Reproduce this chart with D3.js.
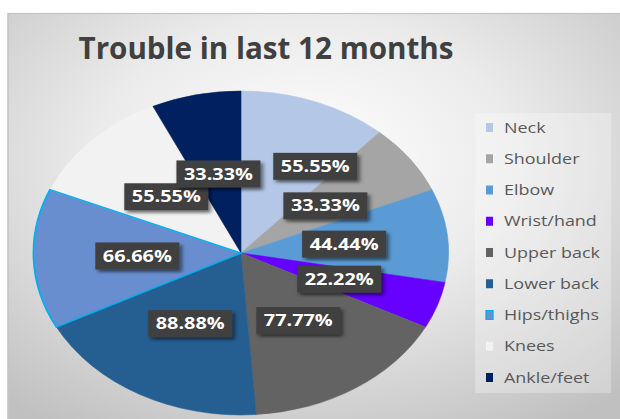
<!DOCTYPE html>
<html>
<head>
<meta charset="utf-8">
<script src="https://cdn.jsdelivr.net/npm/d3@7"></script>
<style>
  html, body { margin: 0; padding: 0; background: #fff; }
  svg { display: block; }
</style>
</head>
<body>
<div id="chart"></div>
<script>
// Chart data
const categories = ["Neck", "Shoulder", "Elbow", "Wrist/hand", "Upper back", "Lower back", "Hips/thighs", "Knees", "Ankle/feet"];
const values = [55.55, 33.33, 44.44, 22.22, 77.77, 88.88, 66.66, 55.55, 33.33];
const colors = ["#b4c7e7", "#a5a5a5", "#5b9bd5", "#6600ff", "#636363", "#255e91", "#698ed0", "#f2f2f2", "#002060"];
const titleText = "Trouble in last 12 months";

// Size of the page, the original picture is stretched sideways,
// so everything is drawn in a narrower box and stretched by k
const w = 620;
const h = 419;
const k = 1.281;
const vw = w / k;

const data = categories.map((c, i) => ({ name: c, value: values[i], color: colors[i] }));

const svg = d3.select("#chart")
  .append("svg")
  .attr("width", w)
  .attr("height", h)
  .attr("viewBox", `0 0 ${vw} ${h}`)
  .attr("preserveAspectRatio", "none");

const defs = svg.append("defs");

// background gradient
const grad = defs.append("radialGradient")
  .attr("id", "bg")
  .attr("cx", "48%").attr("cy", "35%").attr("r", "75%");
grad.append("stop").attr("offset", "0%").attr("stop-color", "#ffffff");
grad.append("stop").attr("offset", "45%").attr("stop-color", "#ebebeb");
grad.append("stop").attr("offset", "100%").attr("stop-color", "#c0c0c0");

// shadow under the data labels
const shadow = defs.append("filter")
  .attr("id", "shadow")
  .attr("x", "-20%").attr("y", "-30%").attr("width", "150%").attr("height", "170%");
shadow.append("feDropShadow")
  .attr("dx", 2).attr("dy", 2.5)
  .attr("stdDeviation", 1.6)
  .attr("flood-color", "#000")
  .attr("flood-opacity", 0.55);

// chart frame
svg.append("rect")
  .attr("x", 8 / k)
  .attr("y", 13.5)
  .attr("width", vw)
  .attr("height", h)
  .attr("fill", "url(#bg)")
  .attr("stroke", "#c3c3c3")
  .attr("stroke-width", 1.2);

// title
svg.append("text")
  .attr("x", 266 / k)
  .attr("y", 59)
  .attr("text-anchor", "middle")
  .attr("font-family", "'Open Sans', sans-serif")
  .attr("font-weight", 700)
  .attr("font-size", 31)
  .attr("fill", "#404040")
  .attr("textLength", 375 / k)
  .attr("lengthAdjust", "spacingAndGlyphs")
  .text(titleText);

// pie
const cx = 241 / k;
const cy = 253;
const radius = 162;

const pie = d3.pie().sort(null).value(d => d.value);
const arcs = pie(data);
const arc = d3.arc().innerRadius(0).outerRadius(radius);
const labelArc = d3.arc().innerRadius(radius * 0.5).outerRadius(radius * 0.5);

const g = svg.append("g").attr("transform", `translate(${cx},${cy})`);

g.selectAll("path")
  .data(arcs)
  .enter()
  .append("path")
  .attr("d", arc)
  .attr("fill", d => d.data.color)
  .attr("stroke", d => d.data.color)
  .attr("stroke-width", 0.5)
  .attr("stroke-linejoin", "round");

// Hips/thighs drawn again on top so its border is not covered
g.append("path")
  .attr("d", arc(arcs[6]))
  .attr("fill", "none")
  .attr("stroke", "#00b0f0")
  .attr("stroke-width", 1.4);

// data labels: centre at half radius, then pushed sideways if they overlap
const boxW = 84 / k;
const boxH = 27;
const fmt = d => d3.format(".2f")(d) + "%";

const placed = [];
const labelPos = arcs.map(d => {
  const [x, y] = labelArc.centroid(d);
  return { x, y, d };
});
// place from the last slice back to the first, like the original
for (let i = labelPos.length - 1; i >= 0; i--) {
  const p = labelPos[i];
  const dir = Math.sin((p.d.startAngle + p.d.endAngle) / 2) >= 0 ? 1 : -1;
  placed.forEach(q => {
    const ox = boxW - Math.abs(p.x - q.x);
    const oy = boxH - Math.abs(p.y - q.y);
    if (ox > 6 && oy > 6) {
      p.x = dir > 0 ? q.x + boxW + 10 : q.x - boxW - 10;
      p.y -= 11;
    }
  });
  placed.push(p);
}

const labels = g.selectAll("g.lbl")
  .data(labelPos)
  .enter()
  .append("g")
  .attr("class", "lbl")
  .attr("transform", p => `translate(${p.x},${p.y})`);

labels.append("rect")
  .attr("x", -boxW / 2)
  .attr("y", -boxH / 2)
  .attr("width", boxW)
  .attr("height", boxH)
  .attr("fill", "#404040")
  .attr("filter", "url(#shadow)");

labels.append("text")
  .attr("text-anchor", "middle")
  .attr("dy", "0.36em")
  .attr("font-family", "'Open Sans', sans-serif")
  .attr("font-weight", 700)
  .attr("font-size", 15.5)
  .attr("fill", "#ffffff")
  .text(p => fmt(p.d.data.value));

// legend
const legendX = 475 / k;
const legendY = 113;
svg.append("rect")
  .attr("x", legendX)
  .attr("y", legendY)
  .attr("width", (611 - 475) / k)
  .attr("height", 393 - 113)
  .attr("fill", "#ffffff")
  .attr("fill-opacity", 0.28);

const legendScale = d3.scalePoint()
  .domain(categories)
  .range([127.5, 377.5]);

const items = svg.selectAll("g.leg")
  .data(data)
  .enter()
  .append("g")
  .attr("class", "leg")
  .attr("transform", d => `translate(${486 / k},${legendScale(d.name)})`);

items.append("rect")
  .attr("x", 0)
  .attr("y", -4.5)
  .attr("width", 7 / k)
  .attr("height", 9)
  .attr("fill", d => d.color)
  .attr("stroke", d => d.name === "Hips/thighs" ? "#00b0f0" : "none")
  .attr("stroke-width", 1);

items.append("text")
  .attr("x", 18 / k)
  .attr("dy", "0.36em")
  .attr("font-family", "'Open Sans', sans-serif")
  .attr("font-size", 14)
  .attr("fill", "#595959")
  .text(d => d.name);
</script>
</body>
</html>
